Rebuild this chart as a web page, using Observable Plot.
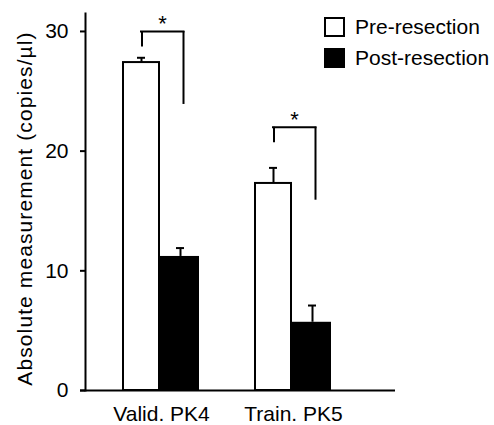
<!DOCTYPE html>
<html>
<head>
<meta charset="utf-8">
<script src="https://cdn.jsdelivr.net/npm/d3@7"></script>
<script src="https://cdn.jsdelivr.net/npm/@observablehq/plot@0.6"></script>
<style>
  body { margin: 0; background: white; }
  #wrap { position: relative; width: 494px; height: 425px; font-family: "Liberation Sans", Arial, sans-serif; }
  .legend { position: absolute; left: 324px; top: 11px; font-size: 21px; color: black; }
  .item { display: flex; align-items: center; height: 31px; }
  .sw { width: 17px; height: 16px; border: 2px solid black; margin-right: 10px; box-sizing: content-box; }
</style>
</head>
<body>
<div id="wrap"></div>
<script>
const groups = ["Valid. PK4", "Train. PK5"];
const seriesNames = ["Pre-resection", "Post-resection"];
const preMean = [27.4, 17.3];
const preErr = [0.4, 1.3];
const postMean = [11.2, 5.7];
const postErr = [0.7, 1.4];
const bracketTop = [30.0, 22.0];
const bracketLeftEnd = [28.7, 20.7];
const bracketRightEnd = [23.9, 15.9];
const yTicks = [0, 10, 20, 30];
const yTitle = "Absolute measurement (copies/µl)";

const pre = groups.map((g, i) => ({group: g, value: preMean[i], hi: preMean[i] + preErr[i]}));
const post = groups.map((g, i) => ({group: g, value: postMean[i], hi: postMean[i] + postErr[i]}));
const brackets = groups.map((g, i) => ({group: g, top: bracketTop[i], left: bracketLeftEnd[i], right: bracketRightEnd[i]}));

const chart = Plot.plot({
  width: 494,
  height: 425,
  marginLeft: 85,
  marginRight: 99,
  marginTop: 13,
  marginBottom: 35,
  style: {fontFamily: "'Liberation Sans', Arial, sans-serif", fontSize: "21px", background: "white", color: "black"},
  x: {type: "band", domain: groups, paddingInner: 0.421, paddingOuter: 0.376, align: 0.37, label: null},
  y: {domain: [0, 31.5], label: null},
  marks: [
    Plot.barY(pre, {x: "group", y: "value", fill: "white", stroke: "black", strokeWidth: 2, insetRight: 40}),
    Plot.barY(post, {x: "group", y: "value", fill: "black", insetLeft: 37}),
    Plot.ruleX(pre, {x: "group", y1: "value", y2: "hi", dx: -20, strokeWidth: 2}),
    Plot.tickY(pre, {x: "group", y: "hi", insetLeft: 14, insetRight: 54, strokeWidth: 2}),
    Plot.ruleX(post, {x: "group", y1: "value", y2: "hi", dx: 19, strokeWidth: 2}),
    Plot.tickY(post, {x: "group", y: "hi", insetLeft: 53, insetRight: 15, strokeWidth: 2}),
    Plot.ruleX(brackets, {x: "group", y1: "left", y2: "top", dx: -19.5, strokeWidth: 2}),
    Plot.ruleX(brackets, {x: "group", y1: "right", y2: "top", dx: 22, strokeWidth: 2}),
    Plot.tickY(brackets, {x: "group", y: "top", insetLeft: 18, insetRight: 15.5, strokeWidth: 2, strokeLinecap: "square"}),
    Plot.text(brackets, {x: "group", y: "top", text: () => "*", dy: -7, dx: 1, fontSize: 22}),
    Plot.ruleY([0], {strokeWidth: 2, insetLeft: -5}),
    Plot.frame({anchor: "left", strokeWidth: 2}),
    Plot.axisY({ticks: yTicks, tickSize: 5, tickPadding: 12, strokeWidth: 2, fontSize: 21, label: null}),
    Plot.axisX({tickSize: 0, tickPadding: 16, fontSize: 21, label: null}),
    Plot.text([yTitle], {text: (d) => d, frameAnchor: "left", textAnchor: "middle", rotate: -90, dx: -60, dy: 6.5, fontSize: 21})
  ]
});
chart.querySelectorAll("text").forEach((t) => {
  if (t.textContent === yTitle) t.style.letterSpacing = "1.1px";
});
const wrap = document.getElementById("wrap");
wrap.appendChild(chart);

const legend = document.createElement("div");
legend.className = "legend";
const fills = ["white", "black"];
seriesNames.forEach((name, i) => {
  const item = document.createElement("div");
  item.className = "item";
  const sw = document.createElement("div");
  sw.className = "sw";
  sw.style.background = fills[i];
  const label = document.createElement("span");
  label.textContent = name;
  item.appendChild(sw);
  item.appendChild(label);
  legend.appendChild(item);
});
wrap.appendChild(legend);
</script>
</body>
</html>
